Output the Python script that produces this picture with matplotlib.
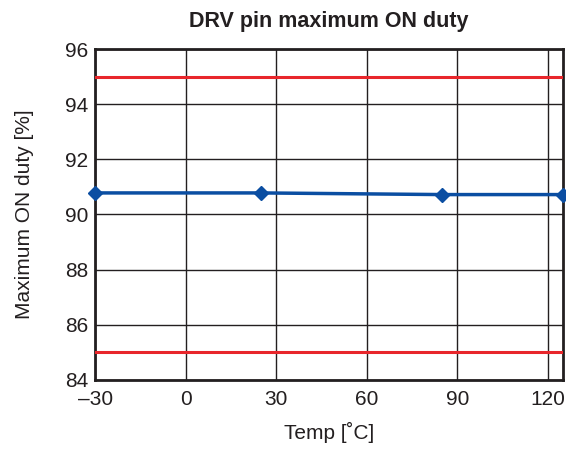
import matplotlib
matplotlib.use('Agg')
import matplotlib.pyplot as plt

plt.rcParams['font.family'] = ['Liberation Sans', 'DejaVu Sans']

# Данные
temp = [-30, 25, 85, 125]
duty = [90.78, 90.78, 90.72, 90.72]
limit_max = 95
limit_min = 85
x_ticks = [-30, 0, 30, 60, 90, 120]
y_ticks = [84, 86, 88, 90, 92, 94, 96]

fig = plt.figure(figsize=(5.66, 4.5), dpi=100)
ax = fig.add_axes([0.168, 0.156, 0.827, 0.735])

ax.axhline(limit_max, color='#e8262b', lw=2.2, zorder=3)
ax.axhline(limit_min, color='#e8262b', lw=2.2, zorder=3)
ax.plot(temp, duty, color='#0b4ea2', lw=2.5, marker='D', markersize=7, zorder=4, clip_on=False)

ax.set_xlim(-30, 125)
ax.set_ylim(84, 96)
ax.set_xticks(x_ticks)
ax.set_yticks(y_ticks)
ax.set_xticklabels(['\u201330', '0', '30', '60', '90', '120'])
ax.tick_params(length=0, labelsize=15, colors='#231f20')
ax.tick_params(axis='x', pad=7)
ax.tick_params(axis='y', pad=5)
ax.grid(color='#231f20', lw=1)
for s in ax.spines.values():
    s.set_linewidth(2)
    s.set_color('#231f20')

ax.set_title('DRV pin maximum ON duty', fontsize=15.5, fontweight='bold', pad=16, color='#231f20')
ax.set_xlabel('Temp [\u02daC]', fontsize=15, labelpad=10, color='#231f20')
ax.set_ylabel('Maximum ON duty [%]', fontsize=15, labelpad=22, color='#231f20')

fig.savefig('out.png', dpi=100)
